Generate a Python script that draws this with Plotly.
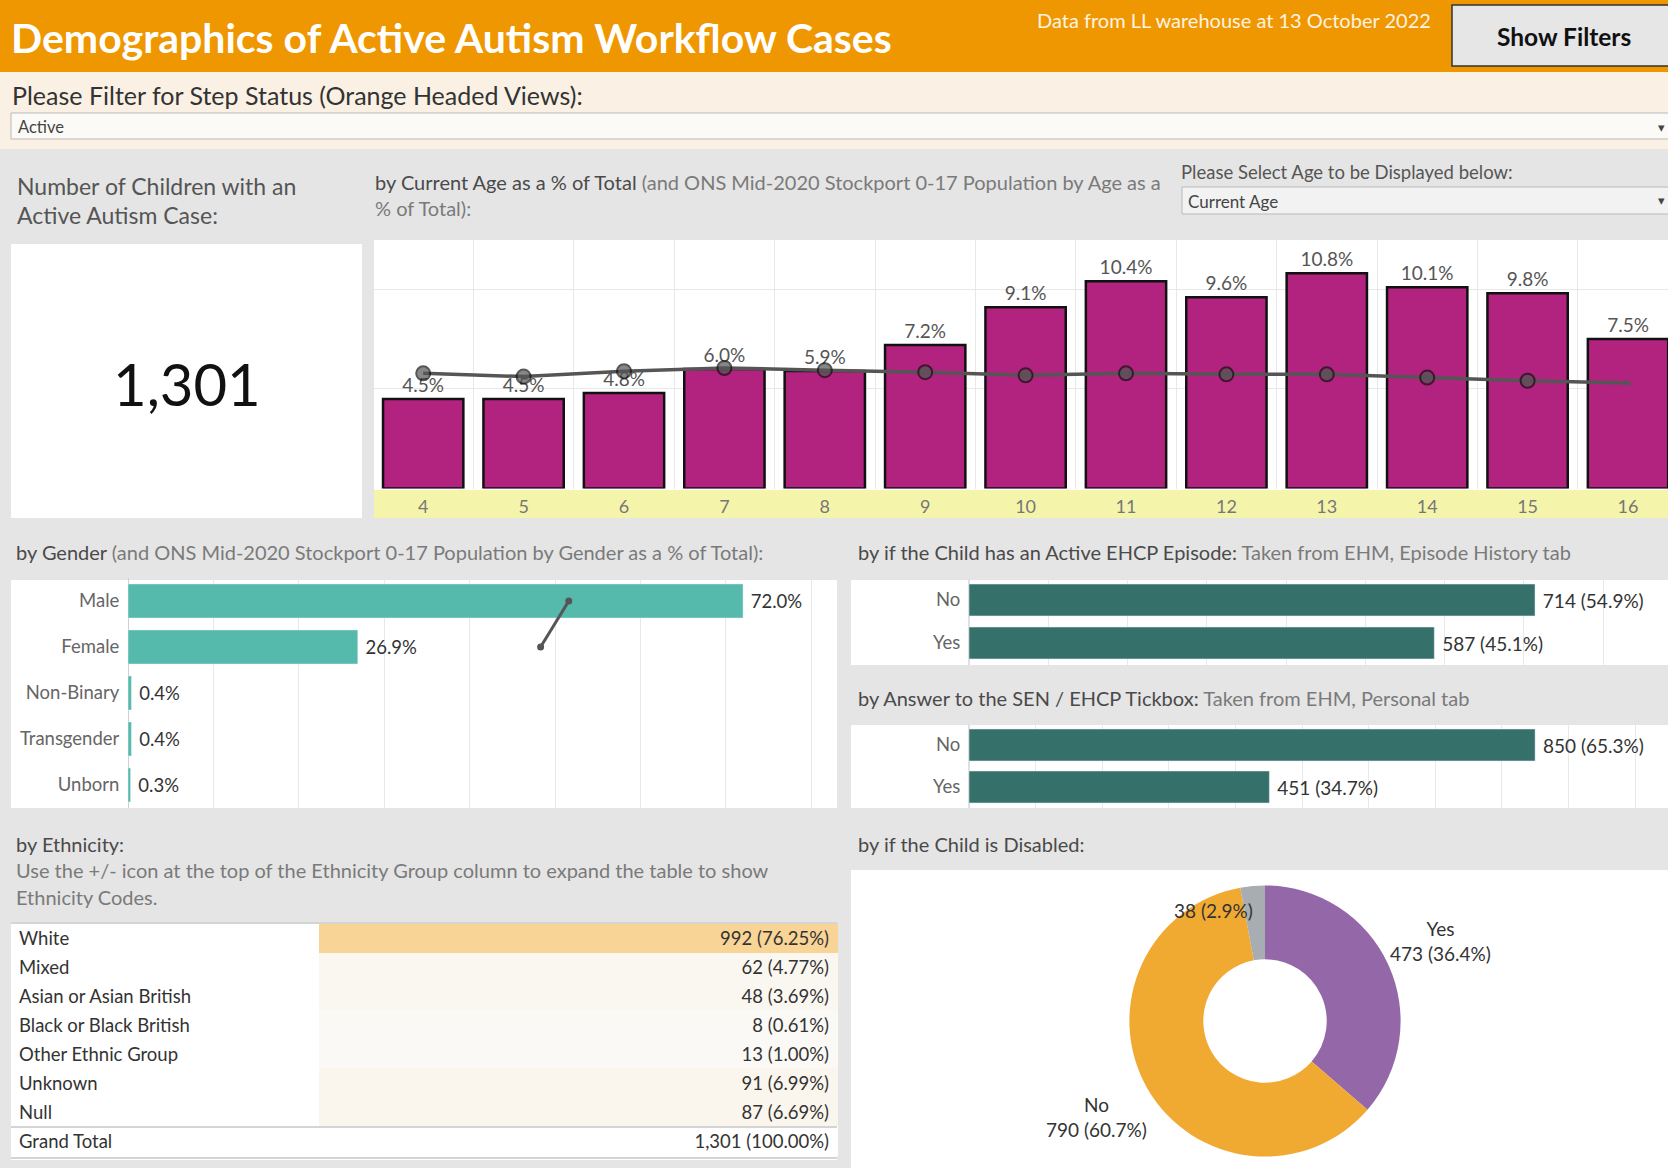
import math
import plotly.graph_objects as go

W, H = 1668, 1168
def fx(x): return x / W
def fy(y): return 1 - y / H

# ---------------- data ----------------
total_children = 1301
ages = [4, 5, 6, 7, 8, 9, 10, 11, 12, 13, 14, 15, 16]
age_pct = [4.5, 4.5, 4.8, 6.0, 5.9, 7.2, 9.1, 10.4, 9.6, 10.8, 10.1, 9.8, 7.5]
age_pop_pct = [5.78, 5.62, 5.89, 6.05, 5.94, 5.84, 5.68, 5.78, 5.73, 5.73, 5.57, 5.41, 5.30]

genders = ["Male", "Female", "Non-Binary", "Transgender", "Unborn"]
gender_pct = [72.0, 26.9, 0.4, 0.4, 0.3]
gender_pop_cats = ["Female", "Male"]
gender_pop_pct = [48.3, 51.6]

ehcp_cats = ["No", "Yes"]
ehcp_counts = [714, 587]
sen_cats = ["No", "Yes"]
sen_counts = [850, 451]

ethnic_groups = ["White", "Mixed", "Asian or Asian British", "Black or Black British",
                 "Other Ethnic Group", "Unknown", "Null"]
ethnic_counts = [992, 62, 48, 8, 13, 91, 87]

disabled_cats = ["Yes", "No", "Null"]
disabled_counts = [473, 790, 38]

FONT = "Lato"
NB = "\u00a0"
fig = go.Figure()

# ---------------- age chart ----------------
fig.add_trace(go.Bar(
    x=ages, y=age_pct, width=0.8, xaxis="x", yaxis="y",
    marker=dict(color="#b2237f", line=dict(color="#111111", width=2.5)),
    text=[f"{v:.1f}%" for v in age_pct], textposition="outside", constraintext="none",
    textfont=dict(size=19, color="#555555", family=FONT), cliponaxis=False, hoverinfo="skip"))
n = len(ages)
fig.add_trace(go.Scatter(
    x=ages, y=age_pop_pct, mode="lines+markers", xaxis="x", yaxis="y",
    line=dict(color="#555555", width=3.5),
    marker=dict(size=[14] * (n - 1) + [6], color="#555555",
                line=dict(color="#111111", width=[2] * (n - 1) + [0])),
    cliponaxis=False, hoverinfo="skip"))

# ---------------- gender chart ----------------
fig.add_trace(go.Bar(
    y=genders, x=gender_pct, orientation="h", width=0.74, xaxis="x3", yaxis="y3",
    marker=dict(color="#55b9ab"), text=[f"{NB}{v:.1f}%" for v in gender_pct],
    textposition="outside", constraintext="none", cliponaxis=False,
    textfont=dict(size=18.5, color="#333333", family=FONT), hoverinfo="skip"))
fig.add_trace(go.Scatter(
    y=gender_pop_cats, x=gender_pop_pct, mode="lines+markers", xaxis="x3", yaxis="y3",
    line=dict(color="#555555", width=3), marker=dict(size=7, color="#555555"), hoverinfo="skip"))

# ---------------- EHCP / SEN charts ----------------
def count_labels(counts):
    tot = sum(counts)
    return [f"{NB}{c} ({c / tot * 100:.1f}%)" for c in counts]

fig.add_trace(go.Bar(
    y=ehcp_cats, x=ehcp_counts, orientation="h", width=0.74, xaxis="x4", yaxis="y4",
    marker=dict(color="#35706b"), text=count_labels(ehcp_counts), textposition="outside",
    constraintext="none", cliponaxis=False,
    textfont=dict(size=19, color="#333333", family=FONT), hoverinfo="skip"))
fig.add_trace(go.Bar(
    y=sen_cats, x=sen_counts, orientation="h", width=0.76, xaxis="x5", yaxis="y5",
    marker=dict(color="#35706b"), text=count_labels(sen_counts), textposition="outside",
    constraintext="none", cliponaxis=False,
    textfont=dict(size=19, color="#333333", family=FONT), hoverinfo="skip"))

# ---------------- ethnicity table ----------------
eth_tot = sum(ethnic_counts)
eth_text = [f"{c} ({c / eth_tot * 100:.2f}%)" for c in ethnic_counts]
cmax = max(ethnic_counts)
lo, hi = (250, 249, 246), (248, 212, 150)
def heat(c):
    t = c / cmax
    return "rgb(%d,%d,%d)" % tuple(round(lo[i] + (hi[i] - lo[i]) * t) for i in range(3))
val_fills = [heat(c) for c in ethnic_counts]
tfont = dict(size=18.5, color="#333333", family=FONT)
fig.add_trace(go.Table(
    domain=dict(x=[fx(11), fx(837)], y=[fy(1162), fy(923)]),
    columnwidth=[308, 518],
    header=dict(values=[ethnic_groups[0], eth_text[0]],
                fill_color=["white", val_fills[0]], align=["left", "right"],
                font=tfont, height=29,
                line=dict(color=["white", val_fills[0]], width=1)),
    cells=dict(values=[ethnic_groups[1:] + ["Grand Total"],
                       eth_text[1:] + [f"{eth_tot:,} ({100:.2f}%)"]],
               fill_color=[["white"] * len(ethnic_groups), val_fills[1:] + ["white"]],
               align=["left", "right"], height=29, font=tfont,
               line=dict(color=[["white"] * len(ethnic_groups), val_fills[1:] + ["white"]], width=1))))

# ---------------- disabled donut ----------------
cx, cy, R = 1265, 1021, 135.6
fig.add_trace(go.Pie(
    labels=disabled_cats, values=disabled_counts, hole=0.455, sort=False,
    direction="clockwise", rotation=0, textinfo="none", hoverinfo="skip", showlegend=False,
    marker=dict(colors=["#9468a8", "#f0aa32", "#a7adb0"], line=dict(width=0)),
    domain=dict(x=[fx(cx - R), fx(cx + R)], y=[fy(cy + R), fy(cy - R)])))

# ---------------- layout ----------------
shapes = []
def rect(x0, y0, x1, y1, fill, line=None, lw=0, layer="below"):
    shapes.append(dict(type="rect", xref="paper", yref="paper", x0=fx(x0), x1=fx(x1),
                       y0=fy(y1), y1=fy(y0), fillcolor=fill, layer=layer,
                       line=dict(color=line or fill, width=lw)))
def hline(x0, x1, y, color, w):
    shapes.append(dict(type="line", xref="paper", yref="paper", x0=fx(x0), x1=fx(x1),
                       y0=fy(y), y1=fy(y), line=dict(color=color, width=w), layer="above"))

rect(0, 0, W, 72, "#ef9700")
rect(0, 72, W, 149, "#faf1e4")
rect(11, 113, W + 5, 139, "#fcfaf6", "#b9b9b9", 1)
rect(1452, 5, W + 5, 66, "#e6e6e6", "#333333", 1.5)
rect(1182, 187, W + 5, 214, "#f2f2f2", "#b9b9b9", 1)
rect(11, 244, 362, 518, "white")
rect(374, 240, W, 518, "white")
rect(374, 490, W, 518, "#f5f4ab")
rect(11, 580, 837, 808, "white")
rect(851, 580, W, 665, "white")
rect(851, 725, W, 808, "white")
rect(11, 923, 837, 1160, "white")
rect(851, 870, W, H, "white")
hline(11, 837, 923, "#d4d4d4", 2)
hline(11, 837, 1127, "#d4d4d4", 2)
hline(11, 837, 1158, "#d4d4d4", 2)

annotations = []
def txt(x, y, text, size, color="#555555", xanchor="left", bold=False, yanchor="middle"):
    if bold:
        text = f"<b>{text}</b>"
    annotations.append(dict(x=fx(x), y=fy(y), xref="paper", yref="paper", text=text,
                            showarrow=False, xanchor=xanchor, yanchor=yanchor,
                            font=dict(size=size, color=color, family=FONT)))

def two_tone(a, b):
    return f"<span style='color:#4a4a4a'>{a}</span>{b}"

txt(9, 38, "Demographics of Active Autism Workflow Cases", 41, "white", bold=True)
txt(1433, 20, "Data from LL warehouse at 13 October 2022", 20, "#fff3e0", xanchor="right")
txt(1564, 36, "Show Filters", 24.5, "#111111", xanchor="center", bold=True)
txt(10, 95, "Please Filter for Step Status (Orange Headed Views):", 25, "#333333")
txt(16, 127, "Active", 16.5, "#444444")
txt(1661, 127, "▾", 13, "#444444", xanchor="center")
txt(15, 186, "Number of Children with an", 23, "#555555")
txt(15, 215, "Active Autism Case:", 23, "#555555")
txt(187, 383, f"{total_children:,}", 58, "#111111", xanchor="center")
txt(373, 182, two_tone("by Current Age as a % of Total",
                       " (and ONS Mid-2020 Stockport 0-17 Population by Age as a"), 20, "#7a7a7a")
txt(373, 208, "% of Total):", 20, "#7a7a7a")
txt(1179, 172, "Please Select Age to be Displayed below:", 18.5, "#555555")
txt(1186, 201, "Current Age", 17, "#444444")
txt(1661, 200, "▾", 13, "#444444", xanchor="center")
txt(14, 552, two_tone("by Gender", " (and ONS Mid-2020 Stockport 0-17 Population by Gender as a % of Total):"), 20, "#7a7a7a")
txt(856, 552, two_tone("by if the Child has an Active EHCP Episode:", " Taken from EHM, Episode History tab"), 20, "#7a7a7a")
txt(856, 698, two_tone("by Answer to the SEN / EHCP Tickbox:", " Taken from EHM, Personal tab"), 20, "#7a7a7a")
txt(14, 844, two_tone("by Ethnicity:", ""), 20, "#7a7a7a")
txt(14, 870, "Use the +/- icon at the top of the Ethnicity Group column to expand the table to show", 20, "#7a7a7a")
txt(14, 897, "Ethnicity Codes.", 20, "#7a7a7a")
txt(856, 844, two_tone("by if the Child is Disabled:", ""), 20, "#7a7a7a")

# donut labels positioned from slice mid-angles
dis_tot = sum(disabled_counts)
cum = 0
label_cfg = [(1.42, "center", True), (1.43, "center", True), (0.815, "right", False)]
for cat, c, (rf, xa, named) in zip(disabled_cats, disabled_counts, label_cfg):
    mid = (cum + c / 2) / dis_tot * 2 * math.pi
    cum += c
    lx = cx + rf * R * math.sin(mid)
    ly = cy - rf * R * math.cos(mid)
    t = f"{c} ({c / dis_tot * 100:.1f}%)"
    if named:
        t = f"{cat}<br>{t}"
    annotations.append(dict(x=fx(lx), y=fy(ly), xref="paper", yref="paper", text=t,
                            showarrow=False, xanchor=xa, yanchor="middle", align="center",
                            font=dict(size=19, color="#333333", family=FONT)))

grid = "#e8e8e8"
hide = dict(showticklabels=False, fixedrange=True)
cat_tick = dict(ticks="outside", ticklen=4, tickcolor="rgba(0,0,0,0)",
                tickfont=dict(size=18.5, color="#666666", family=FONT), showgrid=False,
                zeroline=False, fixedrange=True, type="category", autorange="reversed")
x_end = 3.5 + (W - 373) / 100.4
fig.update_layout(
    width=W, height=H, autosize=False, margin=dict(l=0, r=0, t=0, b=0, pad=0),
    paper_bgcolor="#e5e5e5", plot_bgcolor="rgba(0,0,0,0)", showlegend=False,
    font=dict(family=FONT, color="#555555"),
    xaxis=dict(domain=[fx(373), 1], range=[3.5, x_end], anchor="y", tickvals=ages,
               ticktext=[str(a) for a in ages], ticks="outside", ticklen=2,
               tickcolor="rgba(0,0,0,0)", tickfont=dict(size=18, color="#777777", family=FONT),
               showgrid=False, zeroline=False, fixedrange=True,
               minor=dict(tickvals=[a + 0.5 for a in ages], showgrid=True, gridcolor=grid,
                          ticklen=0, gridwidth=1)),
    yaxis=dict(domain=[fy(488.6), fy(240)], range=[0, 12.47], anchor="x", dtick=5,
               showgrid=True, gridcolor=grid, zeroline=False, **hide),
    xaxis3=dict(domain=[fx(128), fx(837)], range=[0, 83], anchor="y3", dtick=10,
                showgrid=True, gridcolor=grid, zeroline=True, zerolinecolor="#d0d0d0",
                zerolinewidth=1, **hide),
    yaxis3=dict(domain=[fy(808), fy(578)], anchor="x3", categoryarray=genders,
                categoryorder="array", **cat_tick),
    xaxis4=dict(domain=[fx(969), 1], range=[0, (W - 969) / 0.7927], anchor="y4", dtick=100,
                showgrid=True, gridcolor=grid, zeroline=True, zerolinecolor="#e0e0e0", **hide),
    yaxis4=dict(domain=[fy(664.5), fy(578.5)], anchor="x4", **cat_tick),
    xaxis5=dict(domain=[fx(969), 1], range=[0, (W - 969) / 0.666], anchor="y5", dtick=100,
                showgrid=True, gridcolor=grid, zeroline=True, zerolinecolor="#e0e0e0", **hide),
    yaxis5=dict(domain=[fy(808), fy(724)], anchor="x5", **cat_tick),
    shapes=shapes, annotations=annotations,
)

fig.write_html("out.html", config={"displayModeBar": False},
               post_script="document.body.style.margin='0px';document.body.style.overflow='hidden';")
